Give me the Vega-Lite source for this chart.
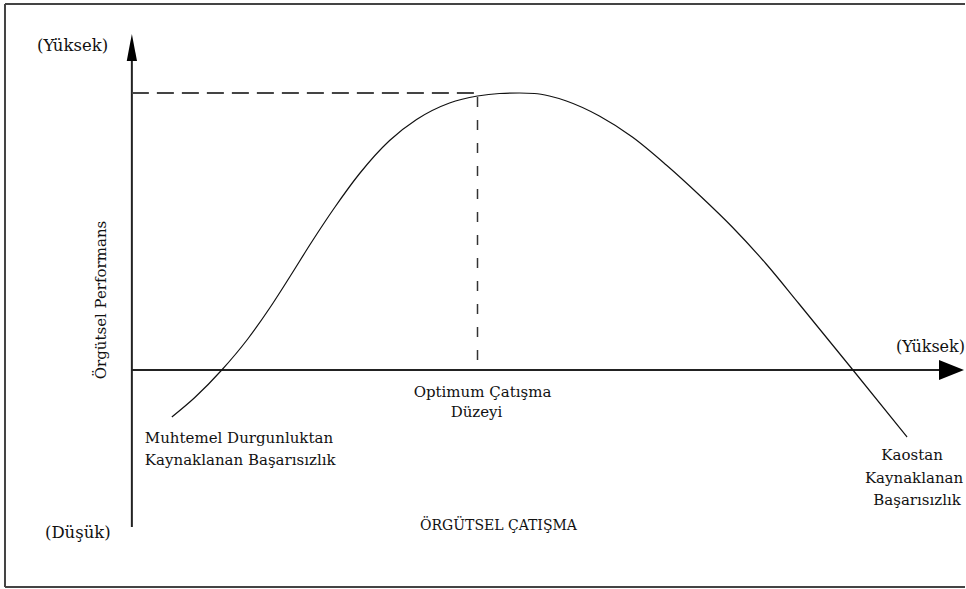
{
  "$schema": "https://vega.github.io/schema/vega-lite/v6.json",
  "width": 966,
  "height": 589,
  "autosize": {"type": "fit", "contains": "padding"},
  "padding": 0,
  "background": "white",
  "config": {"view": {"stroke": null}},
  "datasets": {
    "frame": [
      {"x": 5, "y": 4, "x2": 966, "y2": 4},
      {"x": 5, "y": 4, "x2": 5, "y2": 587},
      {"x": 5, "y": 587, "x2": 966, "y2": 587}
    ],
    "axes": [
      {"x": 132, "y": 61, "x2": 132, "y2": 527},
      {"x": 132, "y": 370, "x2": 942, "y2": 370}
    ],
    "curve": [
      {"x": 172, "y": 417}, {"x": 195, "y": 397.5}, {"x": 222, "y": 370}, {"x": 248, "y": 339},
      {"x": 270, "y": 308}, {"x": 290, "y": 277}, {"x": 312, "y": 242}, {"x": 335, "y": 207.5},
      {"x": 360, "y": 173.5}, {"x": 390, "y": 140.5}, {"x": 417, "y": 119.5}, {"x": 450, "y": 103},
      {"x": 478, "y": 96}, {"x": 500, "y": 93.5}, {"x": 520, "y": 93}, {"x": 535, "y": 93.5},
      {"x": 550, "y": 96}, {"x": 567, "y": 101}, {"x": 600, "y": 116}, {"x": 633, "y": 137},
      {"x": 667, "y": 165}, {"x": 700, "y": 195}, {"x": 733, "y": 227}, {"x": 767, "y": 264},
      {"x": 800, "y": 304}, {"x": 853, "y": 369}, {"x": 908, "y": 437}
    ],
    "leftText": [
      {"x": 145, "y": 443, "t": "Muhtemel Durgunluktan"},
      {"x": 145, "y": 465, "t": "Kaynaklanan Başarısızlık"}
    ],
    "leftTextBig": [
      {"x": 37, "y": 51, "t": "(Yüksek)"},
      {"x": 45, "y": 538, "t": "(Düşük)"}
    ],
    "centerText": [
      {"x": 483, "y": 397, "t": "Optimum Çatışma"},
      {"x": 477, "y": 417, "t": "Düzeyi"},
      {"x": 913, "y": 460, "t": "Kaostan"},
      {"x": 915, "y": 483, "t": "Kaynaklanan"},
      {"x": 918, "y": 505, "t": "Başarısızlık"}
    ],
    "titleText": [
      {"x": 499, "y": 530, "t": "ÖRGÜTSEL ÇATIŞMA"}
    ],
    "rightText": [
      {"x": 966, "y": 352, "t": "(Yüksek)"}
    ],
    "vertText": [
      {"x": 106, "y": 300, "t": "Örgütsel Performans"}
    ]
  },
  "encoding": {
    "x": {"field": "x", "type": "quantitative", "scale": {"domain": [0, 966], "nice": false, "zero": false}, "axis": null},
    "y": {"field": "y", "type": "quantitative", "scale": {"domain": [0, 589], "nice": false, "zero": false, "reverse": true}, "axis": null}
  },
  "layer": [
    {
      "data": {"name": "frame"},
      "mark": {"type": "rule", "color": "#444", "strokeWidth": 2},
      "encoding": {"x2": {"field": "x2"}, "y2": {"field": "y2"}}
    },
    {
      "data": {"name": "axes"},
      "mark": {"type": "rule", "color": "#222", "strokeWidth": 2},
      "encoding": {"x2": {"field": "x2"}, "y2": {"field": "y2"}}
    },
    {
      "data": {"values": [{"x": 132, "y": 93, "x2": 478, "y2": 93}]},
      "mark": {"type": "rule", "color": "#444", "strokeWidth": 2, "strokeDash": [17, 8]},
      "encoding": {"x2": {"field": "x2"}, "y2": {"field": "y2"}}
    },
    {
      "data": {"values": [{"x": 478, "y": 97, "x2": 478, "y2": 370}]},
      "mark": {"type": "rule", "color": "#333", "strokeWidth": 1.5, "strokeDash": [10, 13]},
      "encoding": {"x2": {"field": "x2"}, "y2": {"field": "y2"}}
    },
    {
      "data": {"name": "curve"},
      "mark": {"type": "line", "color": "#111", "strokeWidth": 1.2, "interpolate": "monotone"},
      "encoding": {"order": {"field": "x", "type": "quantitative"}}
    },
    {
      "data": {"values": [{"x": 132, "y": 47.5}]},
      "mark": {"type": "point", "shape": "M0,-1L0.38,1L-0.38,1Z", "size": 729, "filled": true, "color": "#000", "opacity": 1, "strokeWidth": 0},
      "encoding": {}
    },
    {
      "data": {"values": [{"x": 952.5, "y": 370}]},
      "mark": {"type": "point", "shape": "M1,0L-1,-0.8L-1,0.8Z", "size": 625, "filled": true, "color": "#000", "opacity": 1, "strokeWidth": 0},
      "encoding": {}
    },
    {
      "data": {"name": "leftText"},
      "mark": {"type": "text", "align": "left", "baseline": "alphabetic", "font": "DejaVu Serif", "fontSize": 15, "color": "#111"},
      "encoding": {"text": {"field": "t"}}
    },
    {
      "data": {"name": "leftTextBig"},
      "mark": {"type": "text", "align": "left", "baseline": "alphabetic", "font": "DejaVu Serif", "fontSize": 16.5, "color": "#111"},
      "encoding": {"text": {"field": "t"}}
    },
    {
      "data": {"name": "centerText"},
      "mark": {"type": "text", "align": "center", "baseline": "alphabetic", "font": "DejaVu Serif", "fontSize": 15, "color": "#111"},
      "encoding": {"text": {"field": "t"}}
    },
    {
      "data": {"name": "titleText"},
      "mark": {"type": "text", "align": "center", "baseline": "alphabetic", "font": "DejaVu Serif", "fontSize": 14, "color": "#111"},
      "encoding": {"text": {"field": "t"}}
    },
    {
      "data": {"name": "rightText"},
      "mark": {"type": "text", "align": "right", "baseline": "alphabetic", "font": "DejaVu Serif", "fontSize": 16, "color": "#111"},
      "encoding": {"text": {"field": "t"}}
    },
    {
      "data": {"name": "vertText"},
      "mark": {"type": "text", "align": "center", "baseline": "alphabetic", "angle": 270, "font": "DejaVu Serif", "fontSize": 15, "color": "#111"},
      "encoding": {"text": {"field": "t"}}
    }
  ]
}
